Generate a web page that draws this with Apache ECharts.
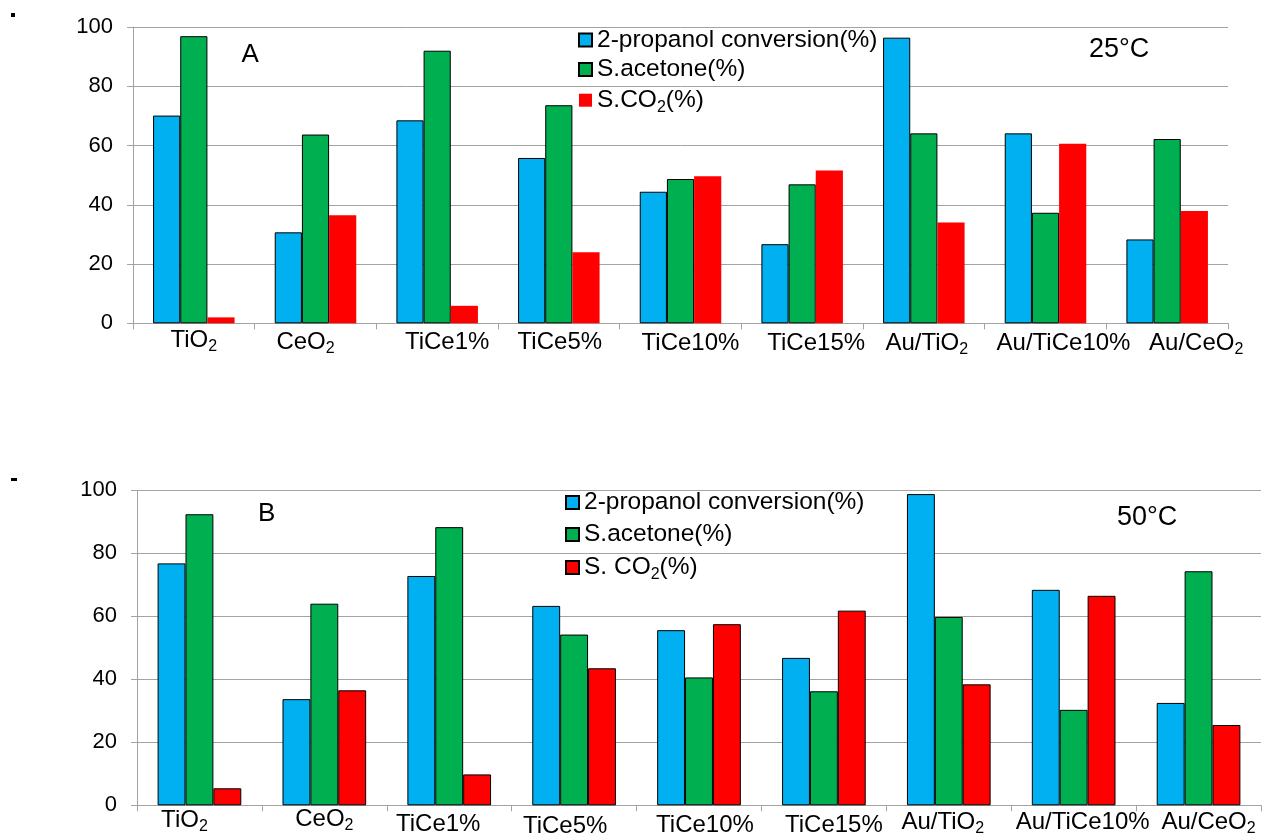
<!DOCTYPE html>
<html>
<head>
<meta charset="utf-8">
<title>2-propanol conversion and selectivity at 25°C and 50°C</title>
<script src="https://cdn.jsdelivr.net/npm/echarts@6/dist/echarts.min.js"></script>
<style>
  html, body { margin: 0; padding: 0; background: #fff; }
  #chart { width: 1263px; height: 834px; }
</style>
</head>
<body>
<div id="chart"></div>
<script>
// Catalysts on the category axis (trailing "O2" is drawn with a subscript 2)
const categories = ['TiO2', 'CeO2', 'TiCe1%', 'TiCe5%', 'TiCe10%', 'TiCe15%', 'Au/TiO2', 'Au/TiCe10%', 'Au/CeO2'];

// Series names
const nameConv = '2-propanol conversion(%)';
const nameAcetone = 'S.acetone(%)';
const nameCO2_25 = 'S.CO2(%)';
const nameCO2_50 = 'S. CO2(%)';

// Panel A, 25°C
const conv25 = [70.1, 30.7, 68.5, 55.8, 44.4, 26.7, 96.4, 64.1, 28.3];
const acetone25 = [96.9, 63.7, 92.0, 73.6, 48.7, 46.9, 64.1, 37.3, 62.2];
const co2_25 = [2.0, 36.5, 5.9, 24.0, 49.6, 51.6, 34.0, 60.6, 37.9];

// Panel B, 50°C
const conv50 = [76.8, 33.7, 72.8, 63.3, 55.6, 46.8, 98.8, 68.4, 32.5];
const acetone50 = [92.4, 64.0, 88.3, 54.2, 40.6, 36.2, 59.8, 30.3, 74.3];
const co2_50 = [5.4, 36.5, 9.8, 43.5, 57.5, 61.8, 38.4, 66.5, 25.5];

// Value axis ticks
const yMin = 0, yMax = 100, yStep = 20;

// ---- styling / layout (kept apart from the values) ----
const FONT = '"Liberation Sans", Arial, Helvetica, sans-serif';
const BLUE = '#00B0F0', GREEN = '#00B050', RED = '#FF0000';
const GRID_GRAY = '#a3a3a3';

// small per-label nudges [dx, dy] for the hand-placed category captions
const shiftA = [[0, 0], [-10, 2], [10, 2], [1, 2], [10, 3], [14, 3], [3, 3], [18, 3], [29, 3]];
const shiftB = [[-15, 1], [0, 0], [-11, 5], [-9, 7], [6, 6], [10, 6], [-6, 3], [9, 3], [10, 3]];

function axisData(shifts) {
  return categories.map((c, i) => {
    const dx = shifts[i][0], dy = shifts[i][1];
    return {
      value: c,
      textStyle: { padding: [dy, dx < 0 ? -2 * dx : 0, 0, dx > 0 ? 2 * dx : 0] }
    };
  });
}

const subFmt = s => s.replace(/O2/, 'O{sub|2}');

function xAxis(gridIndex, shifts, margin) {
  return {
    type: 'category',
    gridIndex: gridIndex,
    data: axisData(shifts),
    axisLine: { lineStyle: { color: GRID_GRAY, width: 1 } },
    axisTick: { show: true, length: 6, lineStyle: { color: GRID_GRAY } },
    axisLabel: {
      interval: 0,
      hideOverlap: false,
      margin: margin,
      color: '#000',
      fontFamily: FONT,
      fontSize: 24,
      lineHeight: 28,
      formatter: subFmt,
      rich: { sub: { fontFamily: FONT, fontSize: 16, lineHeight: 14, padding: [12, 0, 0, 0], color: '#000' } }
    }
  };
}

function yAxis(gridIndex) {
  return {
    type: 'value',
    gridIndex: gridIndex,
    min: yMin, max: yMax, interval: yStep,
    axisLine: { show: true, lineStyle: { color: GRID_GRAY, width: 1 } },
    axisTick: { show: true, length: 6, lineStyle: { color: GRID_GRAY } },
    splitLine: { show: true, lineStyle: { color: GRID_GRAY, width: 1 } },
    axisLabel: { color: '#000', fontFamily: FONT, fontSize: 22, margin: 20 }
  };
}

function legend(top, left, gap, names) {
  return {
    orient: 'vertical',
    top: top, left: left,
    padding: 0,
    itemGap: gap,
    itemWidth: 13, itemHeight: 13,
    icon: 'rect',
    selectedMode: false,
    data: names,
    formatter: subFmt,
    textStyle: {
      color: '#000', fontFamily: FONT, fontSize: 24.5, lineHeight: 28,
      rich: { sub: { fontFamily: FONT, fontSize: 16, lineHeight: 14, padding: [14, 0, 0, 0], color: '#000' } }
    }
  };
}

function bar(name, data, color, idx, bordered) {
  return {
    name: name,
    type: 'bar',
    xAxisIndex: idx, yAxisIndex: idx,
    data: data,
    barGap: '0%',
    barCategoryGap: '33%',
    itemStyle: bordered
      ? { color: color, borderColor: '#000', borderWidth: 1 }
      : { color: color, borderWidth: 0 },
    emphasis: { disabled: true },
    animation: false
  };
}

function caption(text, x, y, size) {
  return {
    type: 'text', x: x, y: y,
    style: { text: text, fill: '#000', fontFamily: FONT, fontSize: size, verticalAlign: 'middle', align: 'left' }
  };
}

const chart = echarts.init(document.getElementById('chart'), null, { renderer: 'canvas' });
chart.setOption({
  backgroundColor: '#fff',
  animation: false,
  textStyle: { fontFamily: FONT },
  grid: [
    { left: 133, right: 35, top: 27, bottom: 510.7, containLabel: false, outerBoundsMode: 'none' },
    { left: 137, right: 2, top: 490.3, bottom: 28.7, containLabel: false, outerBoundsMode: 'none' }
  ],
  xAxis: [xAxis(0, shiftA, 3), xAxis(1, shiftB, 0)],
  yAxis: [yAxis(0), yAxis(1)],
  legend: [
    legend(26, 578, 1.6, [nameConv, nameAcetone, nameCO2_25]),
    legend(488.5, 565, 4, [nameConv, nameAcetone, nameCO2_50])
  ],
  graphic: [
    caption('A', 241.5, 54.5, 26),
    caption('B', 258, 514.2, 26),
    caption('25°C', 1089, 49.7, 27),
    caption('50°C', 1117, 517.3, 27),
    { type: 'rect', shape: { x: 11, y: 13, width: 4, height: 4 }, style: { fill: '#000' } },
    { type: 'rect', shape: { x: 11, y: 478, width: 6, height: 3 }, style: { fill: '#000' } }
  ],
  series: [
    bar(nameConv, conv25, BLUE, 0, true),
    bar(nameAcetone, acetone25, GREEN, 0, true),
    bar(nameCO2_25, co2_25, RED, 0, false),
    bar(nameConv, conv50, BLUE, 1, true),
    bar(nameAcetone, acetone50, GREEN, 1, true),
    bar(nameCO2_50, co2_50, RED, 1, true)
  ]
});
</script>
</body>
</html>
